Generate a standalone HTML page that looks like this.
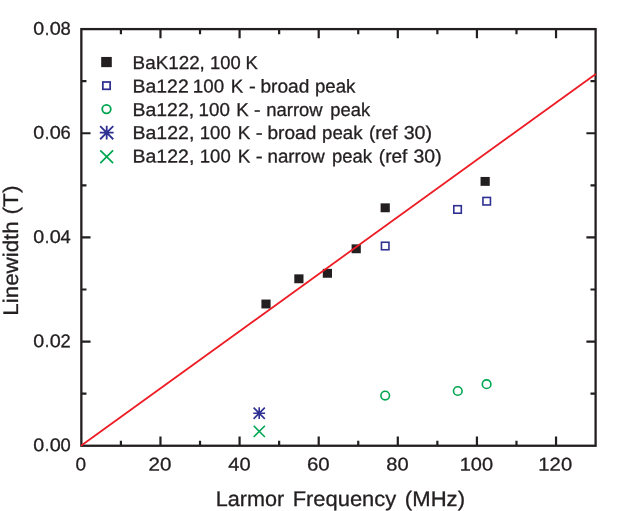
<!DOCTYPE html>
<html><head><meta charset="utf-8"><title>Linewidth vs Larmor Frequency</title><style>
html,body{margin:0;padding:0;background:#fff;}svg{display:block;will-change:transform;}text{stroke:#231F20;stroke-width:0.3px;text-rendering:geometricPrecision;font-kerning:none;font-family:"Liberation Sans",sans-serif;fill:#231F20;}
</style></head><body>
<svg width="623" height="511" viewBox="0 0 623 511">
<rect width="623" height="511" fill="#fff"/>
<path d="M120.91 445.75V440.65M120.91 29.10V34.20M160.47 445.75V436.55M160.47 29.10V38.30M200.02 445.75V440.65M200.02 29.10V34.20M239.58 445.75V436.55M239.58 29.10V38.30M279.14 445.75V440.65M279.14 29.10V34.20M318.70 445.75V436.55M318.70 29.10V38.30M358.25 445.75V440.65M358.25 29.10V34.20M397.81 445.75V436.55M397.81 29.10V38.30M437.37 445.75V440.65M437.37 29.10V34.20M476.93 445.75V436.55M476.93 29.10V38.30M516.48 445.75V440.65M516.48 29.10V34.20M556.04 445.75V436.55M556.04 29.10V38.30M81.35 393.67H86.45M595.60 393.67H590.50M81.35 341.59H90.55M595.60 341.59H586.40M81.35 289.51H86.45M595.60 289.51H590.50M81.35 237.42H90.55M595.60 237.42H586.40M81.35 185.34H86.45M595.60 185.34H590.50M81.35 133.26H90.55M595.60 133.26H586.40M81.35 81.18H86.45M595.60 81.18H590.50" stroke="#231F20" stroke-width="2.20" fill="none"/>
<rect x="81.35" y="29.10" width="514.25" height="416.65" fill="none" stroke="#231F20" stroke-width="2.3"/>
<rect x="261.40" y="299.55" width="9.20" height="8.90" fill="#231F20"/>
<rect x="294.30" y="274.35" width="9.20" height="8.90" fill="#231F20"/>
<rect x="322.80" y="268.85" width="9.20" height="8.90" fill="#231F20"/>
<rect x="351.60" y="244.35" width="9.20" height="8.90" fill="#231F20"/>
<rect x="380.60" y="203.35" width="9.20" height="8.90" fill="#231F20"/>
<rect x="480.55" y="176.95" width="9.20" height="8.90" fill="#231F20"/>
<rect x="381.45" y="242.25" width="7.50" height="7.50" fill="#fff" stroke="#2E3192" stroke-width="1.60"/>
<rect x="453.80" y="205.70" width="7.50" height="7.50" fill="#fff" stroke="#2E3192" stroke-width="1.60"/>
<rect x="482.95" y="197.45" width="7.50" height="7.50" fill="#fff" stroke="#2E3192" stroke-width="1.60"/>
<circle cx="385.20" cy="395.60" r="4.30" fill="#fff" stroke="#00A651" stroke-width="1.60"/>
<circle cx="457.80" cy="391.00" r="4.30" fill="#fff" stroke="#00A651" stroke-width="1.60"/>
<circle cx="486.60" cy="384.20" r="4.30" fill="#fff" stroke="#00A651" stroke-width="1.60"/>
<path d="M253.30 413.20H265.10M259.20 407.30V419.10M253.59 407.59L264.81 418.81M253.59 418.81L264.81 407.59" stroke="#2E3192" stroke-width="1.60" fill="none"/>
<path d="M253.70 425.80L264.90 437.00M253.70 437.00L264.90 425.80" stroke="#00A651" stroke-width="1.60" fill="none"/>
<line x1="81.0" y1="445.8" x2="595.8" y2="73.9" stroke="#ED1C24" stroke-width="1.8"/>
<rect x="101.2" y="56.95" width="10.6" height="10.2" fill="#231F20"/>
<rect x="102.85" y="82.00" width="7.30" height="7.30" fill="#fff" stroke="#2E3192" stroke-width="1.75"/>
<circle cx="106.50" cy="109.10" r="4.30" fill="#fff" stroke="#00A651" stroke-width="1.80"/>
<path d="M99.80 132.70H113.60M106.70 125.80V139.60M100.15 126.14L113.25 139.25M100.15 139.25L113.25 126.14" stroke="#2E3192" stroke-width="1.80" fill="none"/>
<path d="M100.30 150.30L113.10 163.10M100.30 163.10L113.10 150.30" stroke="#00A651" stroke-width="1.70" fill="none"/>
<g transform="matrix(1 0.0005 0 1 0 0)">
<text x="132.61" y="68.93" font-size="18.60" textLength="72.24" lengthAdjust="spacingAndGlyphs">BaK122,</text>
<text x="210.11" y="68.89" font-size="18.60" textLength="30.65" lengthAdjust="spacingAndGlyphs">100</text>
<text x="245.53" y="68.88" font-size="18.60" textLength="12.32" lengthAdjust="spacingAndGlyphs">K</text>
<text x="132.56" y="92.43" font-size="18.60" textLength="56.17" lengthAdjust="spacingAndGlyphs">Ba122</text>
<text x="192.78" y="92.40" font-size="18.60" textLength="31.30" lengthAdjust="spacingAndGlyphs">100</text>
<text x="230.72" y="92.38" font-size="18.60" textLength="12.44" lengthAdjust="spacingAndGlyphs">K</text>
<text x="248.94" y="92.38" font-size="18.60" textLength="6.82" lengthAdjust="spacingAndGlyphs">-</text>
<text x="260.42" y="92.37" font-size="18.60" textLength="48.86" lengthAdjust="spacingAndGlyphs">broad</text>
<text x="314.95" y="92.34" font-size="18.60" textLength="40.48" lengthAdjust="spacingAndGlyphs">peak</text>
<text x="132.56" y="115.93" font-size="18.60" textLength="61.54" lengthAdjust="spacingAndGlyphs">Ba122,</text>
<text x="198.58" y="115.90" font-size="18.60" textLength="31.30" lengthAdjust="spacingAndGlyphs">100</text>
<text x="236.22" y="115.88" font-size="18.60" textLength="12.44" lengthAdjust="spacingAndGlyphs">K</text>
<text x="254.08" y="115.87" font-size="18.60" textLength="6.55" lengthAdjust="spacingAndGlyphs">-</text>
<text x="266.22" y="115.87" font-size="18.60" textLength="56.48" lengthAdjust="spacingAndGlyphs">narrow</text>
<text x="330.37" y="115.83" font-size="18.60" textLength="39.86" lengthAdjust="spacingAndGlyphs">peak</text>
<text x="132.55" y="138.93" font-size="18.60" textLength="61.75" lengthAdjust="spacingAndGlyphs">Ba122,</text>
<text x="199.80" y="138.90" font-size="18.60" textLength="30.98" lengthAdjust="spacingAndGlyphs">100</text>
<text x="237.71" y="138.88" font-size="18.60" textLength="12.56" lengthAdjust="spacingAndGlyphs">K</text>
<text x="255.72" y="138.87" font-size="18.60" textLength="6.96" lengthAdjust="spacingAndGlyphs">-</text>
<text x="267.52" y="138.87" font-size="18.60" textLength="48.76" lengthAdjust="spacingAndGlyphs">broad</text>
<text x="322.05" y="138.84" font-size="18.60" textLength="40.48" lengthAdjust="spacingAndGlyphs">peak</text>
<text x="368.97" y="138.82" font-size="18.60" textLength="28.45" lengthAdjust="spacingAndGlyphs">(ref</text>
<text x="403.70" y="138.80" font-size="18.60" textLength="28.36" lengthAdjust="spacingAndGlyphs">30)</text>
<text x="132.55" y="162.43" font-size="18.60" textLength="61.75" lengthAdjust="spacingAndGlyphs">Ba122,</text>
<text x="199.80" y="162.40" font-size="18.60" textLength="30.98" lengthAdjust="spacingAndGlyphs">100</text>
<text x="237.71" y="162.38" font-size="18.60" textLength="12.56" lengthAdjust="spacingAndGlyphs">K</text>
<text x="255.72" y="162.37" font-size="18.60" textLength="6.96" lengthAdjust="spacingAndGlyphs">-</text>
<text x="267.51" y="162.37" font-size="18.60" textLength="57.20" lengthAdjust="spacingAndGlyphs">narrow</text>
<text x="332.06" y="162.33" font-size="18.60" textLength="40.06" lengthAdjust="spacingAndGlyphs">peak</text>
<text x="378.87" y="162.31" font-size="18.60" textLength="28.55" lengthAdjust="spacingAndGlyphs">(ref</text>
<text x="413.51" y="162.29" font-size="18.60" textLength="28.15" lengthAdjust="spacingAndGlyphs">30)</text>
<text x="75.51" y="470.56" font-size="18.50" textLength="10.59" lengthAdjust="spacingAndGlyphs">0</text>
<text x="148.41" y="470.53" font-size="18.50" textLength="22.94" lengthAdjust="spacingAndGlyphs">20</text>
<text x="228.39" y="470.49" font-size="18.50" textLength="22.35" lengthAdjust="spacingAndGlyphs">40</text>
<text x="306.91" y="470.45" font-size="18.50" textLength="22.74" lengthAdjust="spacingAndGlyphs">60</text>
<text x="386.28" y="470.41" font-size="18.50" textLength="22.36" lengthAdjust="spacingAndGlyphs">80</text>
<text x="459.74" y="470.37" font-size="18.50" textLength="33.40" lengthAdjust="spacingAndGlyphs">100</text>
<text x="538.38" y="470.33" font-size="18.50" textLength="33.76" lengthAdjust="spacingAndGlyphs">120</text>
<text x="33.38" y="451.33" font-size="18.50" textLength="10.94" lengthAdjust="spacingAndGlyphs">0</text>
<text x="44.91" y="451.33" font-size="18.50" textLength="4.09" lengthAdjust="spacingAndGlyphs">.</text>
<text x="49.67" y="451.33" font-size="18.50" textLength="11.05" lengthAdjust="spacingAndGlyphs">0</text>
<text x="60.41" y="451.32" font-size="18.50" textLength="10.24" lengthAdjust="spacingAndGlyphs">0</text>
<text x="33.38" y="347.17" font-size="18.50" textLength="10.94" lengthAdjust="spacingAndGlyphs">0</text>
<text x="44.91" y="347.17" font-size="18.50" textLength="4.09" lengthAdjust="spacingAndGlyphs">.</text>
<text x="49.67" y="347.16" font-size="18.50" textLength="11.05" lengthAdjust="spacingAndGlyphs">0</text>
<text x="60.41" y="347.16" font-size="18.50" textLength="10.24" lengthAdjust="spacingAndGlyphs">2</text>
<text x="33.38" y="243.01" font-size="18.50" textLength="10.94" lengthAdjust="spacingAndGlyphs">0</text>
<text x="44.91" y="243.00" font-size="18.50" textLength="4.09" lengthAdjust="spacingAndGlyphs">.</text>
<text x="49.67" y="243.00" font-size="18.50" textLength="11.05" lengthAdjust="spacingAndGlyphs">0</text>
<text x="60.41" y="242.99" font-size="18.50" textLength="10.24" lengthAdjust="spacingAndGlyphs">4</text>
<text x="33.38" y="138.85" font-size="18.50" textLength="10.94" lengthAdjust="spacingAndGlyphs">0</text>
<text x="44.91" y="138.84" font-size="18.50" textLength="4.09" lengthAdjust="spacingAndGlyphs">.</text>
<text x="49.67" y="138.84" font-size="18.50" textLength="11.05" lengthAdjust="spacingAndGlyphs">0</text>
<text x="60.41" y="138.83" font-size="18.50" textLength="10.24" lengthAdjust="spacingAndGlyphs">6</text>
<text x="33.38" y="34.68" font-size="18.50" textLength="10.94" lengthAdjust="spacingAndGlyphs">0</text>
<text x="44.91" y="34.68" font-size="18.50" textLength="4.09" lengthAdjust="spacingAndGlyphs">.</text>
<text x="49.67" y="34.68" font-size="18.50" textLength="11.05" lengthAdjust="spacingAndGlyphs">0</text>
<text x="60.41" y="34.67" font-size="18.50" textLength="10.24" lengthAdjust="spacingAndGlyphs">8</text>
<text x="215.78" y="505.79" font-size="21.20" textLength="68.53" lengthAdjust="spacingAndGlyphs">Larmor</text>
<text x="292.65" y="505.75" font-size="21.20" textLength="103.54" lengthAdjust="spacingAndGlyphs">Frequency</text>
<text x="404.88" y="505.70" font-size="21.20" textLength="60.14" lengthAdjust="spacingAndGlyphs">(MHz)</text>
</g>
<g transform="rotate(-90)">
<text x="-315.68" y="17.60" font-size="21.20" textLength="94.38" lengthAdjust="spacingAndGlyphs">Linewidth</text>
<text x="-214.46" y="17.60" font-size="21.20" textLength="29.02" lengthAdjust="spacingAndGlyphs">(T)</text>
</g>
</svg></body></html>
